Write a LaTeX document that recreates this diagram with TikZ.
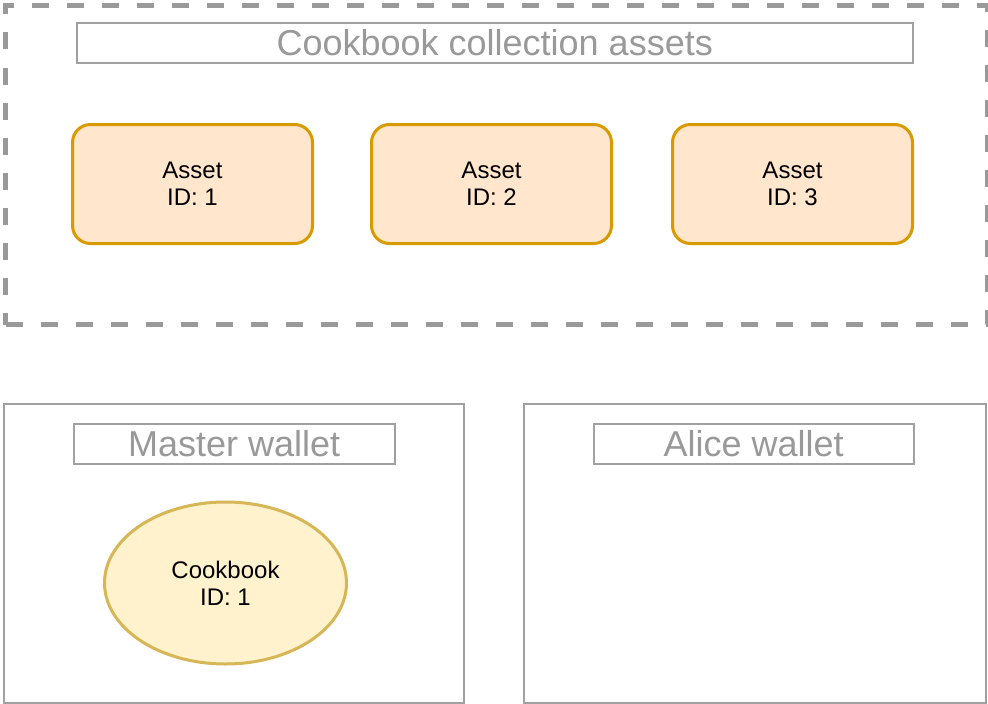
\documentclass[tikz,border=0pt]{standalone}
\usepackage{fontspec}
\setmainfont{Liberation Sans}
\usetikzlibrary{shapes.geometric}
\definecolor{grayline}{RGB}{153,153,153}
\definecolor{grayline2}{RGB}{160,160,160}
\definecolor{assetfill}{RGB}{255,230,204}
\definecolor{assetline}{RGB}{215,155,0}
\definecolor{cookfill}{RGB}{255,242,204}
\definecolor{cookline}{RGB}{214,182,86}
\tikzset{
  titlebox/.style={draw=grayline2, line width=1.5pt, fill=white, minimum height=40pt, inner sep=0pt, text=grayline, font=\fontsize{36}{38}\selectfont, anchor=north west},
  assetbox/.style={draw=assetline, fill=assetfill, line width=3pt, rounded corners=18pt, minimum width=240pt, minimum height=119pt, inner sep=0pt, align=center, font=\fontsize{24}{27}\selectfont, anchor=north west},
  walletbox/.style={draw=grayline2, line width=1.5pt, inner sep=0pt, anchor=north west},
  cookbook/.style={ellipse, draw=cookline, fill=cookfill, line width=3pt, minimum width=242pt, minimum height=162pt, inner sep=0pt, align=center, font=\fontsize{24}{27}\selectfont}
}
\begin{document}
\begin{tikzpicture}[x=1pt,y=-1pt]
\useasboundingbox (0,0) rectangle (988,704);
% outer dashed group
\node[draw=grayline, line width=5pt, dash pattern=on 17pt off 18pt, inner sep=0pt, minimum width=982pt, minimum height=319pt, anchor=north west] (group) at (3,3) {};
\node[titlebox, minimum width=836pt] (grouptitle) at (76,22) {Cookbook collection assets};
\node[assetbox] (a1) at (71,123) {Asset\\ID: 1};
\node[assetbox] (a2) at (370,123) {Asset\\ID: 2};
\node[assetbox] (a3) at (671,123) {Asset\\ID: 3};
% wallets
\node[walletbox, minimum width=460pt, minimum height=299pt] (master) at (3,403) {};
\node[walletbox, minimum width=462pt, minimum height=299pt] (alice) at (523,403) {};
\node[titlebox, minimum width=321pt] (mastertitle) at (73,423) {Master wallet};
\node[titlebox, minimum width=320pt] (alicetitle) at (593,423) {Alice wallet};
\node[cookbook] (cb) at (225.5,583) {Cookbook\\ID: 1};
\end{tikzpicture}
\end{document}
